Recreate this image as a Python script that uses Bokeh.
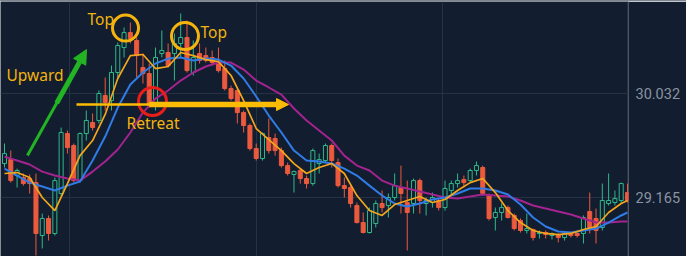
import numpy as np
from bokeh.plotting import figure
from bokeh.models import (Range1d, FixedTicker, PrintfTickFormatter, Label, Arrow,
                          NormalHead, ColumnDataSource, Div)
from bokeh.layouts import column
from bokeh.embed import file_html
from bokeh.resources import INLINE

# ---------------- data ----------------
opens = [29.451, 29.484, 29.351, 29.334, 29.326, 29.292, 28.851, 28.993, 28.868, 29.201,
         29.701, 29.601, 29.309, 29.701, 29.793, 29.810, 30.018, 29.976, 30.210, 30.418,
         30.543, 30.477, 30.251, 30.201, 29.951, 30.368, 30.377, 30.368, 30.452, 30.502,
         30.210, 30.368, 30.351, 30.335, 30.293, 30.243, 30.076, 30.060, 29.876, 29.768,
         29.576, 29.493, 29.668, 29.660, 29.559, 29.434, 29.360, 29.393, 29.326, 29.284,
         29.451, 29.476, 29.601, 29.459, 29.267, 29.251, 29.101, 28.959, 28.876, 28.951,
         29.118, 29.101, 29.168, 29.251, 29.126, 29.118, 29.309, 29.118, 29.126, 29.143,
         29.084, 29.226, 29.284, 29.317, 29.309, 29.393, 29.418, 29.184, 29.001, 29.043,
         29.084, 29.018, 28.976, 28.893, 28.901, 28.868, 28.876, 28.851, 28.859, 28.834,
         28.868, 28.868, 28.868, 29.051, 28.993, 28.918, 29.118, 29.126, 29.143, 29.209]
highs = [29.618, 29.559, 29.409, 29.368, 29.360, 29.368, 29.034, 29.018, 29.334, 29.751,
         29.726, 29.618, 29.710, 29.893, 29.868, 30.060, 30.168, 30.268, 30.460, 30.585,
         30.627, 30.502, 30.368, 30.285, 30.418, 30.560, 30.452, 30.535, 30.702, 30.643,
         30.477, 30.452, 30.418, 30.393, 30.418, 30.310, 30.101, 30.076, 29.893, 29.785,
         29.618, 29.710, 29.826, 29.701, 29.584, 29.459, 29.393, 29.409, 29.351, 29.576,
         29.534, 29.618, 29.618, 29.493, 29.334, 29.267, 29.126, 29.043, 29.084, 29.143,
         29.226, 29.201, 29.368, 29.434, 29.309, 29.326, 29.326, 29.168, 29.209, 29.159,
         29.309, 29.309, 29.368, 29.351, 29.409, 29.468, 29.434, 29.201, 29.084, 29.118,
         29.101, 29.034, 28.993, 29.034, 28.909, 28.893, 28.893, 28.876, 28.868, 28.876,
         28.876, 28.884, 29.018, 29.209, 29.076, 29.284, 29.368, 29.226, 29.292, 29.284]
lows = [29.418, 29.292, 29.251, 29.267, 29.201, 28.684, 28.743, 28.809, 28.851, 29.184,
        29.534, 29.292, 29.292, 29.643, 29.726, 29.785, 29.893, 29.893, 30.168, 30.335,
        30.452, 30.168, 30.118, 29.918, 29.893, 30.335, 30.251, 30.143, 30.335, 30.210,
        30.185, 30.285, 30.293, 30.268, 30.210, 30.060, 29.976, 29.785, 29.710, 29.559,
        29.476, 29.476, 29.534, 29.517, 29.418, 29.351, 29.209, 29.284, 29.243, 29.267,
        29.368, 29.459, 29.418, 29.251, 29.168, 29.084, 28.951, 28.868, 28.868, 28.918,
        29.043, 29.001, 29.143, 29.034, 28.726, 29.034, 29.034, 29.018, 29.084, 29.059,
        29.059, 29.184, 29.251, 29.251, 29.292, 29.351, 29.184, 28.976, 28.893, 28.976,
        28.993, 28.893, 28.876, 28.868, 28.809, 28.826, 28.826, 28.818, 28.793, 28.809,
        28.834, 28.834, 28.784, 28.868, 28.784, 28.893, 29.101, 29.101, 29.118, 29.126]
closes = [29.534, 29.309, 29.393, 29.284, 29.284, 28.868, 28.993, 28.868, 29.309, 29.710,
          29.584, 29.309, 29.701, 29.810, 29.751, 30.035, 29.960, 30.210, 30.435, 30.543,
          30.493, 30.351, 30.201, 29.951, 30.335, 30.393, 30.268, 30.452, 30.502, 30.226,
          30.335, 30.310, 30.310, 30.293, 30.226, 30.076, 29.993, 29.876, 29.768, 29.576,
          29.493, 29.701, 29.559, 29.559, 29.434, 29.368, 29.384, 29.326, 29.284, 29.559,
          29.484, 29.601, 29.476, 29.267, 29.243, 29.118, 28.959, 28.876, 29.059, 29.118,
          29.084, 29.168, 29.267, 29.201, 29.043, 29.309, 29.143, 29.143, 29.168, 29.084,
          29.243, 29.284, 29.309, 29.292, 29.393, 29.434, 29.201, 28.993, 29.043, 29.084,
          29.001, 28.909, 28.893, 28.909, 28.834, 28.876, 28.859, 28.868, 28.834, 28.868,
          28.851, 28.851, 29.001, 28.918, 28.893, 29.143, 29.143, 29.159, 29.284, 29.143]

ma_index = list(range(0, 100, 2)) + [99]
ma_fast = [29.368, 29.376, 29.334, 29.168, 29.059, 29.284, 29.517, 29.643, 29.860, 30.160,
           30.351, 30.360, 30.243, 30.260, 30.377, 30.351, 30.318, 30.301, 30.185, 29.976,
           29.743, 29.651, 29.559, 29.451, 29.368, 29.418, 29.451, 29.368, 29.184, 29.059,
           29.018, 29.109, 29.143, 29.176, 29.126, 29.151, 29.226, 29.292, 29.326, 29.209,
           29.059, 28.959, 28.893, 28.868, 28.859, 28.868, 28.901, 28.926, 29.043, 29.118, 29.143]
ma_mid = [29.409, 29.351, 29.292, 29.259, 29.226, 29.267, 29.301, 29.476, 29.676, 29.918,
          30.110, 30.210, 30.285, 30.326, 30.335, 30.310, 30.326, 30.318, 30.268, 30.160,
          30.010, 29.851, 29.710, 29.559, 29.476, 29.468, 29.451, 29.409, 29.351, 29.267,
          29.184, 29.118, 29.093, 29.118, 29.151, 29.168, 29.201, 29.243, 29.243, 29.226,
          29.193, 29.109, 29.001, 28.926, 28.884, 28.876, 28.893, 28.909, 28.959, 29.018, 29.043]
ma_slow = [29.509, 29.476, 29.443, 29.384, 29.351, 29.326, 29.309, 29.384, 29.468, 29.568,
           29.710, 29.876, 29.993, 30.060, 30.143, 30.210, 30.260, 30.293, 30.293, 30.235,
           30.143, 30.085, 30.026, 29.910, 29.810, 29.726, 29.643, 29.517, 29.434, 29.393,
           29.309, 29.267, 29.243, 29.218, 29.193, 29.168, 29.159, 29.176, 29.193, 29.184,
           29.176, 29.143, 29.101, 29.076, 29.051, 29.026, 28.993, 28.959, 28.959, 28.968, 28.968]

price_ticks = [29.165, 30.032]
session_marks = [10.33, 40.0, 69.6, 98.95]

# ---------------- style ----------------
BG = "#121d2f"
GRID = "#253244"
UP = "#2fb98a"
DOWN = "#ec5a3e"
GOLD = "#f4b40d"
ARROW_GOLD = "#fcbc05"
GREEN_ARROW = "#22b422"
RED_RING = "#e81e1a"

p = figure(frame_width=628, frame_height=255,
           x_range=Range1d(-0.636, 99.16), y_range=Range1d(28.676, 30.802),
           y_axis_location="right", output_backend="svg", toolbar_location=None,
           min_border_left=0, min_border_top=0, min_border_bottom=0, min_border_right=58,
           background_fill_color=BG, border_fill_color=BG, outline_line_color=None)

p.xaxis.visible = False
p.xgrid.ticker = FixedTicker(ticks=session_marks)
p.yaxis.ticker = FixedTicker(ticks=price_ticks)
p.yaxis.formatter = PrintfTickFormatter(format="%.3f")
p.yaxis.axis_line_color = None
p.yaxis.major_tick_line_color = None
p.yaxis.minor_tick_line_color = None
p.yaxis.major_label_standoff = 1
p.yaxis.major_label_text_font = "Roboto"
p.yaxis.major_label_text_font_size = "14.5px"
p.yaxis.major_label_text_color = "#8a93a1"
p.grid.grid_line_color = GRID
p.grid.grid_line_width = 1

o = np.array(opens); c = np.array(closes); h = np.array(highs); l = np.array(lows)
idx = np.arange(len(o))
up = c >= o
dn = ~up
src_up = ColumnDataSource(dict(x=idx[up], o=o[up], c=c[up], h=h[up], l=l[up]))
src_dn = ColumnDataSource(dict(x=idx[dn], o=o[dn], c=c[dn], h=h[dn], l=l[dn]))

W = 0.64
p.segment(x0="x", y0="h", x1="x", y1="l", source=src_up, line_color=UP, line_width=1)
p.vbar(x="x", top="c", bottom="o", width=W, source=src_up,
       fill_color=BG, line_color=UP, line_width=1)
p.segment(x0="x", y0="h", x1="x", y1="l", source=src_dn, line_color=DOWN, line_width=1)
p.vbar(x="x", top="o", bottom="c", width=W, source=src_dn,
       fill_color=DOWN, line_color=DOWN, line_width=1)

p.line(ma_index, ma_slow, line_color="#a3238f", line_width=2)
p.line(ma_index, ma_mid, line_color="#2f7ce6", line_width=2)
p.line(ma_index, ma_fast, line_color="#f3a51c", line_width=1.7)

# ---------------- annotations ----------------
rings = dict(x=[19.23, 28.68, 23.52], y=[30.581, 30.514, 29.968],
             color=[GOLD, GOLD, RED_RING], size=[26, 27, 28])
p.scatter(x="x", y="y", size="size", line_color="color", source=ColumnDataSource(rings),
          marker="circle", fill_color=None, line_width=3)

texts = [("Top", 13.19, 30.656), ("Top", 31.15, 30.547),
         ("Upward", 0.32, 30.189), ("Retreat", 19.39, 29.789)]
for t, x, y in texts:
    p.add_layout(Label(x=x, y=y, text=t, text_font="Noto Sans", text_font_size="15.5px",
                       text_color=GOLD, text_baseline="middle", text_align="left"))

p.add_layout(Arrow(end=None, x_start=11.44, y_start=29.943, x_end=23.2, y_end=29.943,
                   line_color=ARROW_GOLD, line_width=2.5))
p.add_layout(Arrow(end=NormalHead(size=12, fill_color=ARROW_GOLD, line_color=ARROW_GOLD),
                   x_start=23.0, y_start=29.943, x_end=45.13, y_end=29.943,
                   line_color=ARROW_GOLD, line_width=5.5))
p.add_layout(Arrow(end=None, x_start=3.65, y_start=29.518, x_end=8.5, y_end=29.975,
                   line_color=GREEN_ARROW, line_width=3))
p.add_layout(Arrow(end=NormalHead(size=14, fill_color=GREEN_ARROW, line_color=GREEN_ARROW),
                   x_start=8.3, y_start=29.956, x_end=13.03, y_end=30.401,
                   line_color=GREEN_ARROW, line_width=5))

top_line = Div(text="", width=686, height=1, margin=0,
               styles={"background-color": "#7d8591"})
layout = column(top_line, p, spacing=0)

open("out.html", "w").write(file_html(layout, INLINE))
